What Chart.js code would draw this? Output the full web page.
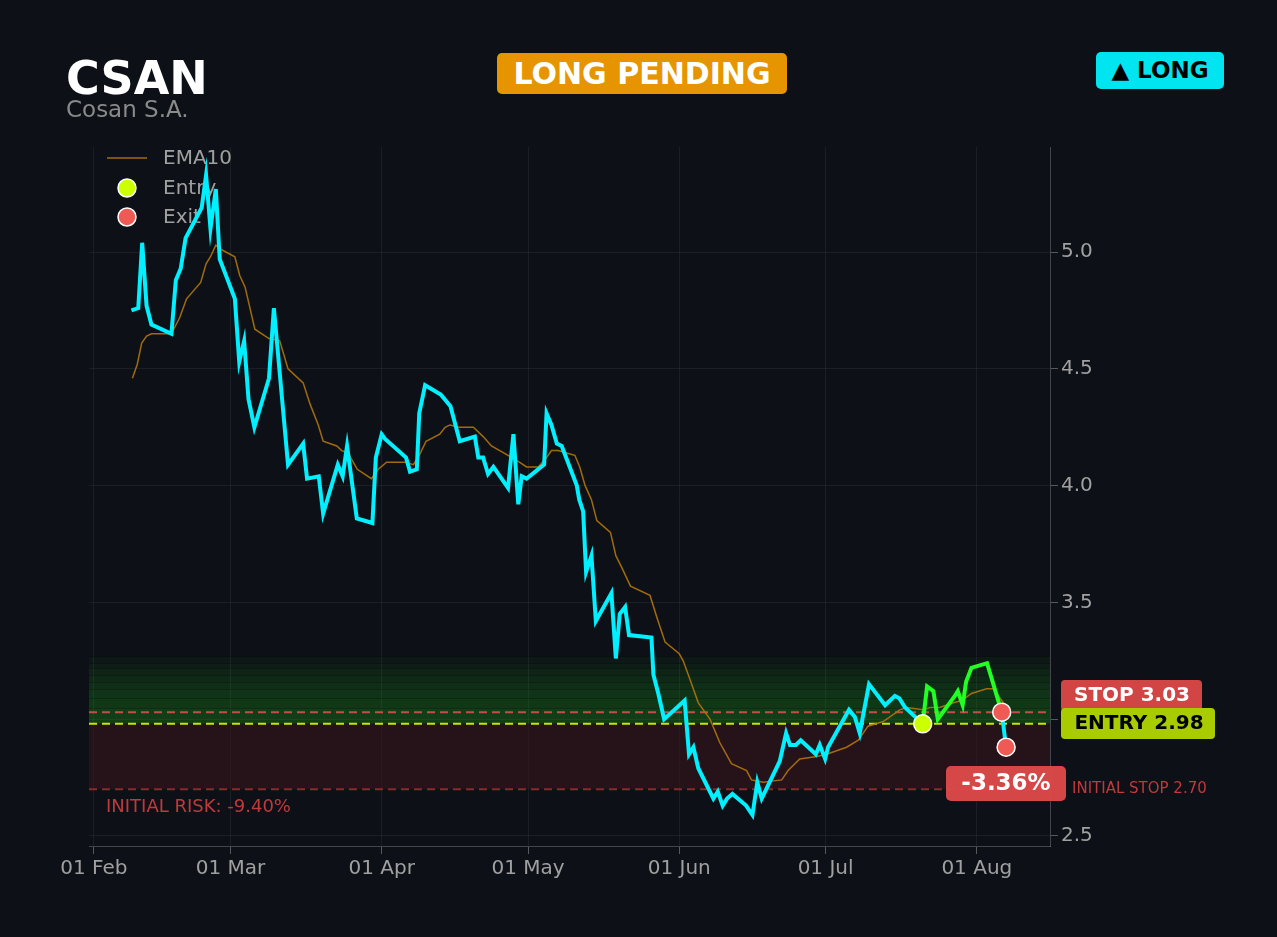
<!DOCTYPE html>
<html>
<head>
<meta charset="utf-8">
<script src="https://cdn.jsdelivr.net/npm/chart.js@4.4.1/dist/chart.umd.min.js"></script>
<style>
  body { margin: 0; background: #0d1117; font-family: 'DejaVu Sans', sans-serif; }
  #wrap { position: relative; width: 1277px; height: 937px; overflow: hidden; }
  canvas { position: absolute; left: 0; top: 0; }
  .ticker { position: absolute; left: 66px; top: 50px; font-size: 46px; font-weight: bold; color: #fff; line-height: 56px; }
  .name { position: absolute; left: 66px; top: 95px; font-size: 23px; color: #8a8a8a; line-height: 28px; }
  .badge { position: absolute; border-radius: 5px; font-weight: bold; text-align: center; }
  .pending { left: 497px; top: 53px; width: 290px; height: 41px; line-height: 41px; background: #e69500; color: #fff; font-size: 30px; }
  .side { left: 1096px; top: 52px; width: 128px; height: 37px; line-height: 37px; background: #00e5f0; color: #000; font-size: 23px; }
</style>
</head>
<body>
<div id="wrap">
  <canvas id="myChart" width="1277" height="937"></canvas>
  <div class="ticker">CSAN</div>
  <div class="name">Cosan S.A.</div>
  <div class="badge pending">LONG PENDING</div>
  <div class="badge side">▲ LONG</div>
</div>
<script>
// days counted from 01 Feb
const priceDays = [7.7, 9.1, 9.9, 10.8, 11.8, 15.9, 16.8, 17.8, 18.8, 22.1, 23.0, 23.9, 25.0, 25.8,
  28.9, 29.8, 30.8, 31.7, 32.9, 35.9, 36.9, 38.8, 39.8, 42.9, 43.7, 46.1, 47.0, 50.0, 51.0, 51.9,
  53.9, 57.1, 57.8, 59.0, 59.7, 64.0, 64.8, 66.2, 66.7, 67.9, 71.1, 73.1, 75.0, 78.1, 78.8, 79.8,
  80.8, 81.9, 84.9, 86.0, 87.0, 87.7, 88.7, 92.3, 92.8, 93.8, 94.9, 95.9, 99.0, 99.5, 100.3, 100.9,
  102.0, 102.9, 106.1, 107.0, 107.8, 108.9, 109.7, 114.3, 114.7, 115.7, 116.9, 121.1, 122.0, 122.9,
  123.9, 127.0, 127.9, 128.9, 129.8, 130.9, 133.7, 135.0, 136.0, 136.9, 140.6, 141.9, 142.7, 143.9,
  144.9, 148.0, 148.8, 149.9, 150.5, 154.8, 156.0, 157.0, 158.9, 162.2, 164.2, 165.1, 166.3, 169.9,
  170.8, 172.1, 173.0, 176.5, 177.1, 178.1, 178.8, 179.9, 183.1, 186.1, 187.0];
const priceClose = [4.75, 4.76, 5.04, 4.77, 4.69, 4.65, 4.88, 4.93, 5.06, 5.19, 5.33, 5.10, 5.27, 4.97,
  4.80, 4.53, 4.62, 4.37, 4.25, 4.46, 4.76, 4.32, 4.09, 4.18, 4.03, 4.04, 3.88, 4.09, 4.04, 4.17,
  3.86, 3.84, 4.12, 4.22, 4.20, 4.12, 4.06, 4.07, 4.31, 4.43, 4.39, 4.34, 4.19, 4.21, 4.12, 4.12,
  4.05, 4.08, 3.99, 4.22, 3.92, 4.04, 4.03, 4.09, 4.31, 4.26, 4.18, 4.17, 4.00, 3.94, 3.89, 3.63,
  3.70, 3.42, 3.54, 3.26, 3.45, 3.48, 3.36, 3.35, 3.19, 3.11, 3.00, 3.08, 2.85, 2.88,
  2.79, 2.66, 2.69, 2.63, 2.66, 2.68, 2.63, 2.59, 2.73, 2.66, 2.82, 2.94, 2.89, 2.89,
  2.91, 2.85, 2.89, 2.83, 2.88, 3.04, 3.01, 2.94, 3.15, 3.06, 3.10, 3.09, 3.05, 2.98,
  3.14, 3.12, 3.00, 3.10, 3.12, 3.06, 3.16, 3.22, 3.24, 3.03, 2.88];

const emaDays = [7.9, 8.9, 9.8, 10.8, 11.8, 15.9, 17.6, 19.0, 21.9, 23.0, 23.9, 25.0, 26.2, 28.9,
  29.9, 31.0, 33.0, 35.9, 38.1, 39.8, 42.9, 44.3, 46.0, 47.0, 49.8, 50.8, 52.1, 54.0, 56.9, 58.3,
  60.0, 63.8, 65.5, 66.7, 68.1, 70.9, 72.0, 73.0, 74.9, 77.8, 79.8, 81.5, 84.9, 87.3, 88.7, 91.1,
  92.8, 93.8, 95.2, 96.9, 98.6, 99.6, 100.7, 102.0, 103.1, 105.9, 107.0, 108.2, 110.0, 114.0, 115.5,
  117.1, 120.0, 120.8, 122.2, 123.9, 126.3, 128.3, 130.7, 133.8, 134.8, 137.2, 141.0, 142.3, 144.7,
  148.2, 150.2, 154.3, 156.7, 158.7, 161.8, 165.2, 166.6, 170.0, 171.4, 173.4, 176.2, 177.9, 179.9,
  183.0, 184.4, 186.1, 186.8];
const emaValues = [4.46, 4.52, 4.61, 4.64, 4.65, 4.65, 4.72, 4.80, 4.87, 4.95, 4.98, 5.03, 5.01, 4.98,
  4.90, 4.85, 4.67, 4.63, 4.62, 4.50, 4.44, 4.35, 4.26, 4.19, 4.17, 4.15, 4.14, 4.07, 4.03, 4.07,
  4.10, 4.10, 4.09, 4.13, 4.19, 4.22, 4.25, 4.26, 4.25, 4.25, 4.21, 4.17, 4.13, 4.10, 4.08, 4.08,
  4.12, 4.15, 4.15, 4.14, 4.13, 4.08, 4.00, 3.94, 3.85, 3.80, 3.70, 3.65, 3.57, 3.53, 3.43,
  3.33, 3.28, 3.25, 3.17, 3.07, 3.00, 2.90, 2.81, 2.78, 2.74, 2.73, 2.74, 2.78, 2.83,
  2.84, 2.85, 2.88, 2.91, 2.97, 2.99, 3.04, 3.05, 3.04, 3.05, 3.05, 3.07, 3.08, 3.11,
  3.13, 3.13, 3.08, 3.06];

const entryDay = 169.9;
const entryPrice = 2.98;
const exitDays = [186.1, 187.0];
const exitPrices = [3.03, 2.88];

const stopLevel = 3.03;
const initialStop = 2.70;
const targetBands = [3.27, 3.24, 3.22, 3.19, 3.16, 3.13, 3.09, 3.05];

const monthDays = [0, 28, 59, 89, 120, 150, 181];
const monthLabels = ['01 Feb', '01 Mar', '01 Apr', '01 May', '01 Jun', '01 Jul', '01 Aug'];
const yTicks = [2.5, 3.0, 3.5, 4.0, 4.5, 5.0];

const cyan = '#00f0ff';
const green = '#22ff22';
const emaColor = 'rgba(176,118,12,0.9)';
const entryColor = '#ccff00';
const exitColor = '#f05a55';

Chart.defaults.font.family = "'DejaVu Sans', sans-serif";
Chart.defaults.color = '#a0a0a0';

function pts(xs, ys) {
  return xs.map((x, i) => ({ x: x, y: ys[i] }));
}

function roundRect(ctx, x, y, w, h, r, fill) {
  ctx.beginPath();
  ctx.roundRect(x, y, w, h, r);
  ctx.fillStyle = fill;
  ctx.fill();
}

const levels = {
  id: 'levels',
  beforeDatasetsDraw(chart) {
    const ctx = chart.ctx;
    const a = chart.chartArea;
    const y = chart.scales.y;
    ctx.save();
    // risk zone
    ctx.fillStyle = 'rgba(60,20,28,0.55)';
    ctx.fillRect(a.left, y.getPixelForValue(entryPrice), a.right - a.left,
      y.getPixelForValue(initialStop) - y.getPixelForValue(entryPrice));
    // target zone, stacked bands
    targetBands.forEach(top => {
      const t = y.getPixelForValue(top);
      ctx.fillStyle = 'rgba(40,150,40,0.055)';
      ctx.fillRect(a.left, t, a.right - a.left, y.getPixelForValue(entryPrice) - t);
      ctx.fillStyle = 'rgba(0,0,0,0.25)';
      ctx.fillRect(a.left, Math.round(t), a.right - a.left, 1);
    });
    const dashed = (v, color) => {
      const py = y.getPixelForValue(v);
      ctx.beginPath();
      ctx.setLineDash([8, 5]);
      ctx.lineWidth = 2;
      ctx.strokeStyle = color;
      ctx.moveTo(a.left, py);
      ctx.lineTo(a.right, py);
      ctx.stroke();
    };
    dashed(stopLevel, 'rgba(230,80,80,0.85)');
    dashed(entryPrice, '#c8e600');
    dashed(initialStop, 'rgba(150,45,45,0.9)');
    ctx.setLineDash([]);

    // legend
    ctx.strokeStyle = emaColor;
    ctx.lineWidth = 1.5;
    ctx.beginPath();
    ctx.moveTo(107, 158);
    ctx.lineTo(147, 158);
    ctx.stroke();
    [[188, entryColor], [217, exitColor]].forEach(([cy, c]) => {
      ctx.beginPath();
      ctx.arc(127, cy, 9, 0, Math.PI * 2);
      ctx.fillStyle = c;
      ctx.fill();
      ctx.lineWidth = 1.5;
      ctx.strokeStyle = '#fff';
      ctx.stroke();
    });
    ctx.font = "20px 'DejaVu Sans'";
    ctx.fillStyle = '#a0a0a0';
    ctx.textBaseline = 'middle';
    ctx.fillText('EMA10', 163, 159);
    ctx.fillText('Entry', 163, 189);
    ctx.fillText('Exit', 163, 218);

    ctx.font = "18px 'DejaVu Sans'";
    ctx.fillStyle = '#c0393b';
    ctx.fillText('INITIAL RISK: -9.40%', 106, 807);
    ctx.restore();
  },
  afterDraw(chart) {
    const ctx = chart.ctx;
    ctx.save();
    ctx.textBaseline = 'middle';
    ctx.textAlign = 'center';
    roundRect(ctx, 1061, 680, 141, 31, 4, '#d24545');
    ctx.font = "bold 20px 'DejaVu Sans'";
    ctx.fillStyle = '#fff';
    ctx.fillText('STOP 3.03', 1132, 696);
    roundRect(ctx, 1061, 708, 154, 31, 4, '#a8cc00');
    ctx.fillStyle = '#000';
    ctx.fillText('ENTRY 2.98', 1139, 724);
    roundRect(ctx, 946, 766, 120, 35, 5, 'rgba(222,74,74,0.96)');
    ctx.font = "bold 23px 'DejaVu Sans'";
    ctx.fillStyle = '#fff';
    ctx.fillText('-3.36%', 1006, 784);
    ctx.textAlign = 'left';
    ctx.font = "15px 'DejaVu Sans'";
    ctx.fillStyle = '#c0393b';
    ctx.fillText('INITIAL STOP 2.70', 1072, 789);
    ctx.restore();
  }
};

const chart = new Chart(document.getElementById('myChart'), {
  type: 'line',
  data: {
    datasets: [{
      label: 'Entry',
      data: [{ x: entryDay, y: entryPrice }],
      showLine: false,
      pointRadius: 9,
      pointBackgroundColor: entryColor,
      pointBorderColor: '#fff',
      pointBorderWidth: 1.5,
      order: 0
    }, {
      label: 'Exit',
      data: pts(exitDays, exitPrices),
      showLine: false,
      pointRadius: 9,
      pointBackgroundColor: exitColor,
      pointBorderColor: '#fff',
      pointBorderWidth: 1.5,
      order: 0
    }, {
      label: 'Close',
      data: pts(priceDays, priceClose),
      borderColor: cyan,
      borderWidth: 4,
      pointRadius: 0,
      tension: 0,
      borderJoinStyle: 'miter',
      segment: {
        borderColor: c => (c.p0.parsed.x >= entryDay && c.p1.parsed.x <= exitDays[0]) ? green : cyan
      },
      order: 1
    }, {
      label: 'EMA10',
      data: pts(emaDays, emaValues),
      borderColor: emaColor,
      borderWidth: 1.5,
      pointRadius: 0,
      tension: 0,
      order: 2
    }]
  },
  options: {
    responsive: false,
    animation: false,
    devicePixelRatio: 1,
    layout: { padding: { left: 89, top: 147, right: 0, bottom: 0 } },
    plugins: { legend: { display: false }, tooltip: { enabled: false } },
    scales: {
      x: {
        type: 'linear',
        min: -1,
        max: 196,
        afterBuildTicks: s => { s.ticks = monthDays.map(v => ({ value: v })); },
        afterFit: s => { s.height = 91; },
        ticks: {
          font: { size: 20 },
          color: '#a0a0a0',
          maxRotation: 0,
          autoSkip: false,
          callback: v => monthLabels[monthDays.indexOf(v)]
        },
        grid: { color: 'rgba(255,255,255,0.06)', tickColor: 'rgba(255,255,255,0.3)', tickLength: 8 },
        border: { color: 'rgba(255,255,255,0.22)' }
      },
      y: {
        position: 'right',
        min: 2.457,
        max: 5.45,
        afterBuildTicks: s => { s.ticks = yTicks.map(v => ({ value: v })); },
        afterFit: s => { s.width = 227; },
        ticks: {
          font: { size: 20 },
          color: '#a0a0a0',
          callback: v => v.toFixed(1)
        },
        grid: { color: 'rgba(255,255,255,0.06)', tickColor: 'rgba(255,255,255,0.3)', tickLength: 8 },
        border: { color: 'rgba(255,255,255,0.22)' }
      }
    }
  },
  plugins: [levels]
});
</script>
</body>
</html>
